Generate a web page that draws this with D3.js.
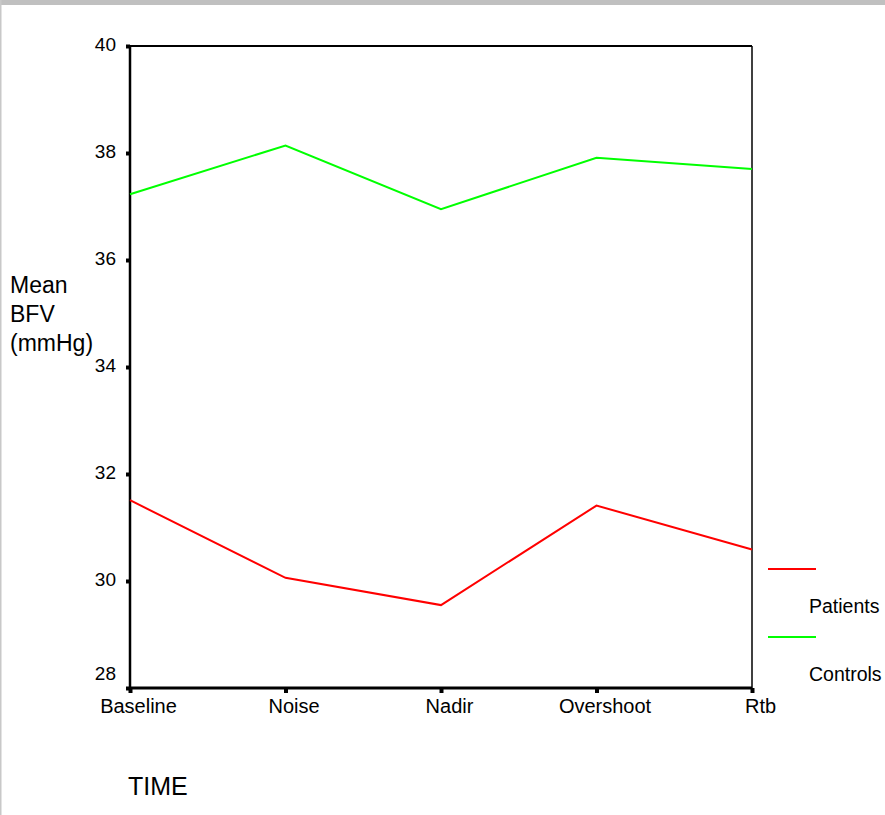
<!DOCTYPE html>
<html>
<head>
<meta charset="utf-8">
<script src="https://cdn.jsdelivr.net/npm/d3@7"></script>
<style>
  body { margin: 0; background: #fff; }
  text { font-family: "Liberation Sans", Arial, sans-serif; fill: #000; }
</style>
</head>
<body>
<div id="chart"></div>
<script>
// data
var times = ["Baseline", "Noise", "Nadir", "Overshoot", "Rtb"];
var patients = [31.51, 30.06, 29.55, 31.41, 30.59];
var controls = [37.23, 38.14, 36.95, 37.91, 37.70];
var yTicks = [28, 30, 32, 34, 36, 38, 40];

var W = 885, H = 815;
var pLeft = 130, pRight = 752, pTop = 46, pBottom = 688;

var svg = d3.select("#chart").append("svg")
  .attr("width", W)
  .attr("height", H);

// grey page border
svg.append("rect").attr("x", 0).attr("y", 0).attr("width", W).attr("height", 5).attr("fill", "#c0c0c0");
svg.append("rect").attr("x", 0).attr("y", 0).attr("width", 1.5).attr("height", H).attr("fill", "#c8c8c8");

var x = d3.scalePoint().domain(times).range([pLeft, pRight]);
var y = d3.scaleLinear().domain([28, 40]).range([pBottom, pTop]);

// y axis ticks (small squares) + labels
var yAxis = svg.append("g")
  .attr("transform", "translate(" + pLeft + ",0)")
  .call(d3.axisLeft(y).tickValues(yTicks).tickSize(4).tickPadding(10));
yAxis.select(".domain").remove();
yAxis.selectAll(".tick line").attr("stroke", "#000").attr("stroke-width", 4);
yAxis.selectAll(".tick text")
  .style("font-size", "19px")
  .attr("dy", function(d) { return d == 28 ? "-0.45em" : "0.25em"; });

// x axis ticks + labels
var xAxis = svg.append("g")
  .attr("transform", "translate(0," + pBottom + ")")
  .call(d3.axisBottom(x).tickSize(5).tickPadding(6));
xAxis.select(".domain").remove();
xAxis.selectAll(".tick line").attr("stroke", "#000").attr("stroke-width", 4);
xAxis.selectAll(".tick text")
  .style("font-size", "20px")
  .attr("dx", 8);

// frame
svg.append("line").attr("x1", pLeft).attr("x2", pRight).attr("y1", pTop).attr("y2", pTop)
  .attr("stroke", "#000").attr("stroke-width", 2);
svg.append("line").attr("x1", pLeft).attr("x2", pRight).attr("y1", pBottom).attr("y2", pBottom)
  .attr("stroke", "#000").attr("stroke-width", 3);
svg.append("line").attr("x1", pLeft).attr("x2", pLeft).attr("y1", pTop).attr("y2", pBottom)
  .attr("stroke", "#000").attr("stroke-width", 2.5);
svg.append("line").attr("x1", pRight).attr("x2", pRight).attr("y1", pTop).attr("y2", pBottom)
  .attr("stroke", "#000").attr("stroke-width", 1.5);

var line = d3.line()
  .x(function(d, i) { return x(times[i]); })
  .y(function(d) { return y(d); });

svg.append("path")
  .attr("d", line(controls))
  .attr("stroke", "#00ff00")
  .attr("stroke-width", 2)
  .attr("fill", "none");

svg.append("path")
  .attr("d", line(patients))
  .attr("stroke", "#ff0000")
  .attr("stroke-width", 2)
  .attr("fill", "none");

// y title
var yTitle = svg.append("text")
  .attr("x", 10)
  .attr("y", 293)
  .style("font-size", "23px");
["Mean", "BFV", "(mmHg)"].forEach(function(s, i) {
  yTitle.append("tspan").attr("x", 10).attr("dy", i == 0 ? 0 : 29).text(s);
});

// x title
svg.append("text")
  .attr("x", 128)
  .attr("y", 795)
  .style("font-size", "25px")
  .text("TIME");

// legend
var legend = [
  {name: "Patients", color: "#ff0000"},
  {name: "Controls", color: "#00ff00"}
];
legend.forEach(function(d, i) {
  var ly = 569 + i * 68;
  svg.append("line")
    .attr("x1", 768).attr("x2", 816)
    .attr("y1", ly).attr("y2", ly)
    .attr("stroke", d.color)
    .attr("stroke-width", 2);
  svg.append("text")
    .attr("x", 809)
    .attr("y", ly + 44)
    .style("font-size", "19.5px")
    .text(d.name);
});
</script>
</body>
</html>
